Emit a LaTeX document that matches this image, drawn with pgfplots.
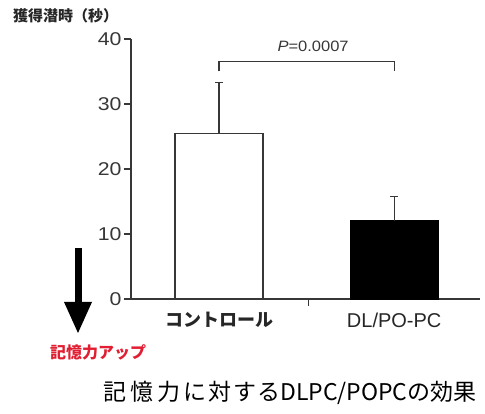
\documentclass[border=0pt]{standalone}
\usepackage{fontspec}
\setmainfont{Liberation Sans}
\newfontfamily\jp{Noto Sans CJK JP}
\usepackage{graphicx}
\usepackage{pgfplots}
\pgfplotsset{compat=1.18}
\definecolor{axcol}{RGB}{55,55,55}
\definecolor{redtxt}{RGB}{225,30,50}
\begin{document}
\begin{tikzpicture}[x=1pt,y=1pt]
\path[use as bounding box] (0,0) rectangle (485,414);
\begin{axis}[
  at={(131pt,115pt)}, anchor=south west,
  scale only axis, width=349pt, height=260pt,
  xmin=0.497, xmax=2.49, ymin=0, ymax=40,
  axis x line=bottom, axis y line=left,
  axis line style={-, axcol, line width=1.3pt},
  every outer x axis line/.append style={-},
  every outer y axis line/.append style={-},
  xtick={1.51}, xticklabels={},
  ytick={0,10,20,30,40},
  tick align=outside, major tick length=7pt,
  tick style={axcol, line width=1.3pt},
  /pgf/number format/assume math mode=true,
  yticklabel={\scalebox{1.15}[1]{\pgfmathprintnumber{\tick}}},
  yticklabel style={font=\fontsize{18.5}{18.5}\selectfont, text=axcol, xshift=1pt},
  clip=false,
]
\addplot[ybar, bar width=88pt, draw=axcol, fill=white, line width=1.2pt,
  error bars/.cd, y dir=plus, y explicit,
  error bar style={axcol, line width=1.2pt},
  error mark options={rotate=90, mark size=4pt, axcol, line width=1.2pt}]
  coordinates {(1,25.4) +- (0,7.9)};
\addplot[ybar, bar width=88pt, draw=black, fill=black, line width=1.2pt,
  error bars/.cd, y dir=plus, y explicit,
  error bar style={axcol, line width=1.2pt},
  error mark options={rotate=90, mark size=4pt, axcol, line width=1.2pt}]
  coordinates {(2,12.05) +- (0,3.7)};
\draw[axcol, line width=1.2pt] (axis cs:1,35.0) -- (axis cs:1,36.5) -- (axis cs:2,36.5) -- (axis cs:2,35.0);
\node[text=axcol, font=\fontsize{15}{15}\selectfont] at (axis cs:1.537,38.8) {\scalebox{1.1}[1]{\textit{P}=0.0007}};
\node[text=black!85, font=\jp\bfseries\fontsize{18}{18}\selectfont] at ([yshift=-21pt]axis cs:1,0) {コントロール};
\node[text=black!85, font=\fontsize{20}{20}\selectfont] at ([yshift=-21pt]axis cs:2,0) {DL/PO-PC};
\end{axis}
% y label
\node[anchor=west, inner sep=0pt, font=\jp\bfseries\fontsize{15}{15}\selectfont, text=black!85] at (13,398.5) {獲得潜時（秒）};
% down arrow
\fill[black] (74.5,166) rectangle (81.5,112);
\fill[black] (64,112) -- (92,112) -- (78,81) -- cycle;
% red label
\node[anchor=west, inner sep=0pt, font=\jp\bfseries\fontsize{16}{16}\selectfont, text=redtxt] at (50,62) {記憶力アップ};
% caption
\node[anchor=west, inner sep=0pt, font=\jp\fontsize{23}{23}\selectfont, text=black] at (103,21) {記\kern4pt 憶\kern4pt 力\kern3pt に\kern2pt 対\kern2pt す\kern1pt るDLPC/POPCの効果};
\end{tikzpicture}
\end{document}
